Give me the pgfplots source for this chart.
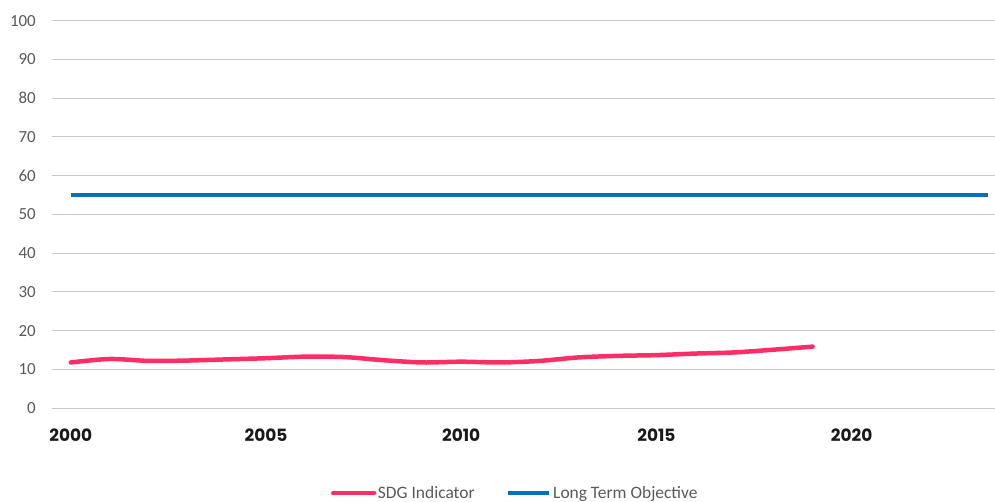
\documentclass[border=0pt]{standalone}
\usepackage{fontspec}
\setmainfont{Carlito}
\newfontfamily\yearfont{Poppins}
\usepackage{pgfplots}
\pgfplotsset{compat=1.18}

\definecolor{sdgpink}{HTML}{FF2D66}
\definecolor{ltoblue}{HTML}{0070C0}
\definecolor{labelgray}{HTML}{595959}
\definecolor{gridgray}{HTML}{C8C8C8}

\begin{document}
\begin{tikzpicture}
\begin{axis}[
  at={(0,0)}, anchor=south west,
  scale only axis,
  width=943bp, height=387.5bp,
  xmin=1999.52, xmax=2023.67,
  ymin=0, ymax=100,
  ytick={0,10,...,100},
  xtick={2000,2005,...,2020},
  xticklabels={2000,2005,2010,2015,2020},
  axis line style={draw=none},
  major tick length=0pt,
  ymajorgrids,
  grid style={gridgray, line width=0.9bp},
  extra y ticks={0},
  extra y tick labels={},
  extra y tick style={grid style={gridgray, line width=0.9bp}},
  yticklabel style={anchor=east, inner sep=0pt, xshift=-16bp,
    font=\fontsize{17}{20}\selectfont, text=labelgray},
  xticklabel style={anchor=north, inner sep=0pt, yshift=-20bp,
    font=\yearfont\bfseries\fontsize{17}{20}\selectfont, text=black!90},
  /pgf/number format/assume math mode=true,
  /pgf/number format/1000 sep={},
  legend columns=2,
  legend style={at={(0.491,-0.219)}, anchor=center, draw=none, fill=none,
    font=\fontsize{17.5}{20}\selectfont, text=labelgray,
    inner sep=0pt,
    nodes={inner sep=1.5bp},
    /tikz/every even column/.append style={column sep=30bp}},
  legend image code/.code={\draw[#1] (0bp,0bp) -- (41bp,0bp);},
]
\addplot[sdgpink, line width=4.5bp, smooth, tension=0.5, line cap=round] coordinates {
  (2000,11.8) (2001,12.7) (2002,12.2) (2003,12.3) (2004,12.6)
  (2005,12.9) (2006,13.3) (2007,13.2) (2008,12.4) (2009,11.8)
  (2010,12.0) (2011,11.8) (2012,12.2) (2013,13.1) (2014,13.5)
  (2015,13.7) (2016,14.1) (2017,14.4) (2018,15.1) (2019,15.9)
};
\addlegendentry{SDG Indicator}
\addplot[ltoblue, line width=4.5bp] coordinates {
  (2000,55) (2023.5,55)
};
\addlegendentry{Long Term Objective}
\end{axis}
\pgfresetboundingbox
\path (-52bp,-93.8bp) rectangle (943bp,408.2bp);
\end{tikzpicture}
\end{document}
